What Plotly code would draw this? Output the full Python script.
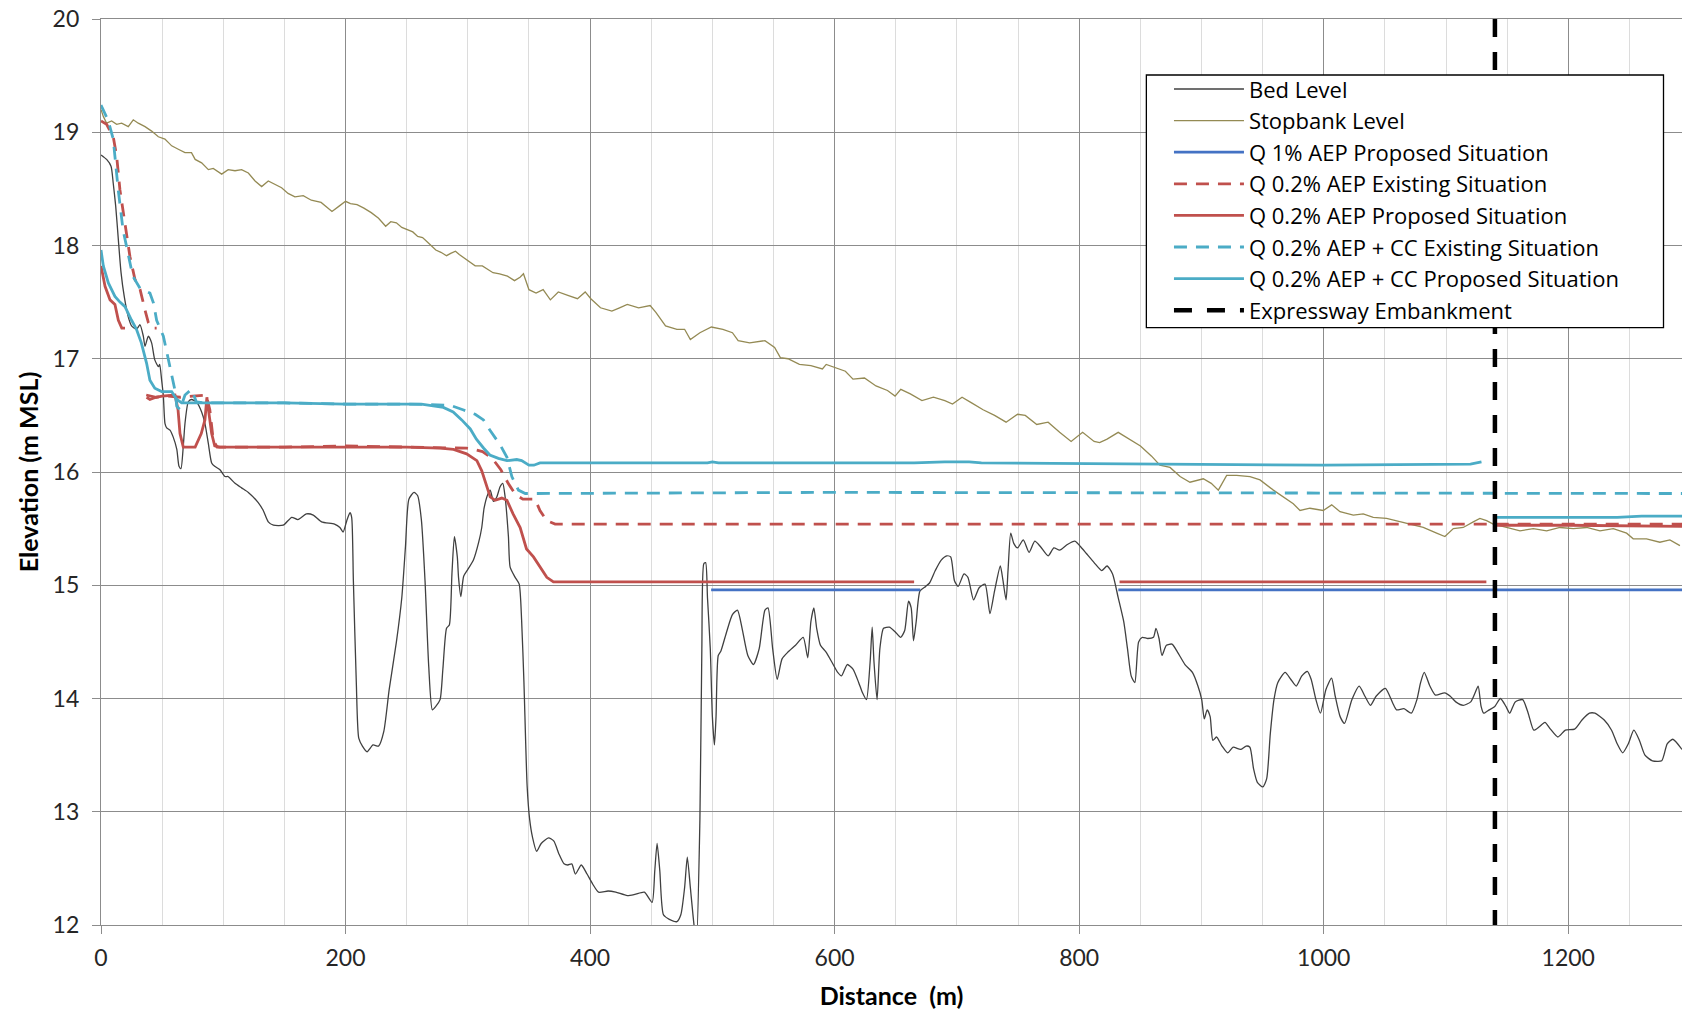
import plotly.graph_objects as go

# ---------------- data ----------------
bed_x = [0, 4.6, 8.2, 10, 12, 14.2, 16.4, 19, 22.3, 25, 29, 31.9, 34.6, 36, 38.7, 41.4, 44, 47, 48, 49.6,
         51, 52.3, 53.7, 56.4, 59, 62, 63.8, 65.4, 67.3, 68.7, 71.4, 74, 78, 82.3, 85, 87.8, 90.5, 93, 97.3,
         101.4, 104, 109.6, 115, 120.5, 128.6, 132.7, 136.8, 141, 149, 156, 161, 168, 173.6, 180.4, 191,
         195.4, 198, 201, 203.6, 205, 206.4, 208.8, 210.8, 213.8, 217.6, 222.5, 227, 231.3, 235.7, 241.6,
         246, 249, 251.8, 256, 259, 262, 265, 268, 271, 273.8, 277.3, 279.6, 282.6, 284.9, 287, 289, 291.4,
         292.4, 294.3, 296.6, 300, 304.5, 308.9, 311.4, 313.3, 316.2, 318.3, 321, 323.7, 326.4, 328.6, 330.5,
         333.2, 334.6, 338.7, 342, 344, 345.9, 348.5, 350.6, 352.8, 356.3, 360, 366, 370.4, 374.4, 378.7,
         381.8, 385, 388, 392.8, 397.5, 402.2, 406.9, 414.7, 421, 430.4, 436.6, 444.4, 450.7, 452.9, 454.8,
         457, 460, 464.8, 471, 474.2, 477.3, 479.5, 482, 485, 487, 489.8, 491.4, 493, 494.5, 496, 498.3, 500,
         501.7, 503, 504.8, 507, 511.7, 516.4, 520.5, 524.3, 529, 533.6, 538.3, 543, 545.5, 549.3, 553, 557,
         561.8, 568, 574.3, 578, 580.6, 583, 585.3, 588.4, 593, 597.8, 602.5, 605.6, 610.3, 615, 619.7,
         622.8, 626, 629, 630.7, 632.2, 634.7, 637, 640, 644.7, 649.4, 654, 657.3, 660.4, 662.6, 664.5,
         666.7, 669.8, 674.5, 677.6, 682.3, 687, 691.7, 694.9, 698, 701, 705.8, 709, 713.6, 718.3, 723, 727,
         730.8, 735.5, 737.7, 740.2, 741.8, 744, 746.5, 749.6, 754.3, 759, 763.7, 768.4, 774.6, 779.3, 784,
         790.3, 796.5, 801.2, 805.9, 812.2, 818.4, 822.8, 827.3, 831.9, 836.4, 839.5, 842.5, 845.5, 848.6,
         851.6, 856.1, 860.7, 862.8, 865.3, 867.7, 871.3, 875.9, 880.4, 886.5, 892.6, 897.1, 900.2, 902.3,
         904.7, 907.1, 909.3, 912.3, 916.8, 921.4, 925.9, 932, 936.5, 939.6, 942.6, 945.7, 950.2, 953.3,
         956.3, 959.3, 962.4, 968.4, 973, 977.5, 982.1, 986.6, 989.7, 993.6, 997.3, 1001.8, 1006.4, 1009.4,
         1013.4, 1017, 1023, 1029, 1033.7, 1038.2, 1042.8, 1050.4, 1056.4, 1059.5, 1065.6, 1071.6, 1076.2,
         1079.2, 1082.2, 1086.8, 1091.4, 1098.9, 1103.5, 1108, 1114.1, 1120.2, 1123.8, 1126.3, 1128.7,
         1130.8, 1135.4, 1139.9, 1144.5, 1149, 1152.1, 1156.6, 1162.7, 1167.2, 1171.8, 1176.3, 1180.9,
         1185.4, 1191.5, 1197.6, 1205.2, 1211.2, 1217.3, 1221.8, 1229.4, 1235.4, 1240, 1244.5, 1249.1,
         1253.6, 1258.2, 1262.7, 1268.8, 1276.4, 1280.9, 1285.5, 1293]
bed_y = [18.80, 18.76, 18.70, 18.55, 18.35, 18.05, 17.76, 17.55, 17.37, 17.29, 17.26, 17.30, 17.20, 17.11,
         17.20, 17.14, 16.99, 16.93, 16.95, 16.81, 16.67, 16.43, 16.39, 16.37, 16.31, 16.20, 16.05, 16.03,
         16.23, 16.43, 16.62, 16.64, 16.62, 16.53, 16.43, 16.25, 16.08, 16.05, 16.02, 15.96, 15.96, 15.90,
         15.86, 15.82, 15.73, 15.66, 15.56, 15.53, 15.53, 15.60, 15.58, 15.63, 15.62, 15.56, 15.54, 15.51,
         15.47, 15.57, 15.64, 15.60, 15.04, 14.14, 13.65, 13.58, 13.53, 13.59, 13.58, 13.71, 14.08, 14.50,
         14.89, 15.34, 15.76, 15.82, 15.79, 15.58, 15.04, 14.29, 13.90, 13.93, 13.99, 14.26, 14.62, 14.65,
         15.10, 15.43, 15.25, 15.07, 14.90, 15.08, 15.14, 15.22, 15.38, 15.51, 15.68, 15.80, 15.84, 15.74,
         15.78, 15.87, 15.90, 15.78, 15.43, 15.16, 15.07, 15.01, 14.69, 14.14, 13.23, 12.93, 12.78, 12.65,
         12.72, 12.77, 12.74, 12.63, 12.54, 12.53, 12.54, 12.45, 12.53, 12.45, 12.36, 12.29, 12.30, 12.29,
         12.26, 12.27, 12.29, 12.20, 12.48, 12.72, 12.48, 12.09, 12.05, 12.03, 12.09, 12.33, 12.60, 12.33,
         12.00, 11.85, 12.93, 14.44, 15.19, 15.20, 14.89, 14.44, 13.84, 13.59, 13.84, 14.38, 14.42, 14.59,
         14.74, 14.78, 14.62, 14.38, 14.30, 14.44, 14.78, 14.80, 14.44, 14.17, 14.35, 14.41, 14.47, 14.54,
         14.36, 14.68, 14.80, 14.62, 14.47, 14.41, 14.32, 14.23, 14.20, 14.30, 14.26, 14.14, 14.05, 13.99,
         14.32, 14.63, 14.32, 13.99, 14.44, 14.62, 14.63, 14.59, 14.54, 14.60, 14.86, 14.80, 14.51, 14.68,
         14.95, 14.99, 15.02, 15.13, 15.22, 15.26, 15.25, 15.04, 14.99, 15.10, 15.07, 14.87, 14.98, 15.01,
         14.75, 14.95, 15.17, 15.04, 14.87, 15.13, 15.46, 15.37, 15.33, 15.40, 15.29, 15.39, 15.34, 15.26,
         15.33, 15.31, 15.36, 15.39, 15.34, 15.28, 15.20, 15.13, 15.17, 15.10, 14.89, 14.68, 14.44, 14.20,
         14.14, 14.50, 14.54, 14.53, 14.54, 14.62, 14.53, 14.38, 14.47, 14.48, 14.41, 14.30, 14.23, 14.11,
         13.99, 13.82, 13.90, 13.84, 13.63, 13.66, 13.58, 13.52, 13.57, 13.55, 13.58, 13.57, 13.38, 13.26,
         13.22, 13.29, 13.69, 13.99, 14.14, 14.23, 14.17, 14.11, 14.20, 14.24, 14.17, 13.99, 13.87, 14.08,
         14.18, 14.02, 13.84, 13.78, 13.99, 14.11, 14.02, 13.94, 14.02, 14.09, 13.96, 13.90, 13.91, 13.87,
         13.99, 14.14, 14.23, 14.11, 14.03, 14.05, 14.02, 13.97, 13.94, 13.97, 14.05, 14.11, 13.93, 13.87,
         13.90, 13.93, 14.00, 13.93, 13.87, 13.97, 13.99, 13.87, 13.72, 13.75, 13.79, 13.73, 13.66, 13.72,
         13.73, 13.81, 13.87, 13.87, 13.81, 13.72, 13.60, 13.52, 13.60, 13.72, 13.63, 13.50, 13.45, 13.45,
         13.60, 13.64, 13.55]

stop_x = [0, 1.9, 4.6, 8.7, 12.8, 16.9, 22.3, 26.4, 30.5, 36, 41.4, 46.9, 52.3, 57.8, 63.2, 68.7, 74, 77,
          82.3, 87.8, 91.8, 98.7, 104, 109.6, 115, 120.5, 126, 131.4, 136.8, 142.3, 147.7, 153, 158.6, 165.4,
          172, 180, 188.9, 195, 200, 204, 209.4, 215, 221, 227, 232.8, 237, 241.6, 246, 250.4, 255, 259, 263,
          268, 273.8, 278, 282.6, 286, 289.9, 293, 297.2, 301, 306, 311.9, 316, 320.6, 326, 332.4, 338.2,
          342.7, 345.5, 350, 355.8, 361.6, 367.5, 374, 381.8, 389.7, 396, 400.6, 408.5, 417.8, 424.1, 430.4,
          439.7, 449.1, 453.8, 461.7, 471, 477.3, 482, 489.8, 499.2, 508.6, 516.4, 521.1, 530.5, 543, 550.9,
          555.6, 561.8, 571.2, 580.6, 590, 593.1, 602.5, 608.8, 615, 624.4, 633.8, 643.2, 649.4, 654.1,
          661.9, 671.4, 680.8, 690.1, 696.4, 704.2, 712, 721.4, 730.8, 740.2, 749.6, 755.9, 765.3, 774.6,
          784, 793.4, 802.8, 812.2, 816.7, 822.8, 831.9, 841, 850.1, 859.2, 866, 874.3, 882.5, 890.6, 901.5,
          908, 913.8, 920.6, 928.8, 939.7, 947.9, 958.8, 967, 975.1, 980.6, 988.7, 999.6, 1006.5, 1013.3,
          1024.2, 1032.3, 1040.5, 1051.4, 1062.3, 1073.2, 1081.4, 1092.3, 1099.1, 1106, 1114.1, 1122.3,
          1127.7, 1133.2, 1138.6, 1149.5, 1160.5, 1171.4, 1182.3, 1193.2, 1204.1, 1215, 1225.9, 1236.8,
          1247.7, 1253.1, 1264, 1274.9, 1283.1, 1291.3]
stop_y = [19.20, 19.14, 19.08, 19.10, 19.07, 19.08, 19.05, 19.11, 19.08, 19.05, 19.01, 18.96, 18.94, 18.88,
          18.85, 18.82, 18.82, 18.76, 18.73, 18.67, 18.68, 18.63, 18.67, 18.66, 18.67, 18.64, 18.57, 18.52,
          18.57, 18.54, 18.51, 18.46, 18.43, 18.44, 18.40, 18.38, 18.30, 18.35, 18.39, 18.37, 18.36, 18.33,
          18.29, 18.24, 18.17, 18.21, 18.20, 18.16, 18.14, 18.12, 18.08, 18.07, 18.02, 17.96, 17.94, 17.91,
          17.93, 17.95, 17.92, 17.89, 17.86, 17.82, 17.82, 17.79, 17.76, 17.75, 17.73, 17.69, 17.72, 17.75,
          17.61, 17.58, 17.61, 17.52, 17.59, 17.56, 17.53, 17.59, 17.53, 17.45, 17.42, 17.45, 17.48, 17.45,
          17.47, 17.41, 17.29, 17.26, 17.26, 17.17, 17.23, 17.28, 17.26, 17.23, 17.16, 17.14, 17.16, 17.10,
          17.01, 17.00, 16.95, 16.94, 16.91, 16.95, 16.91, 16.89, 16.82, 16.83, 16.76, 16.72, 16.67, 16.73,
          16.69, 16.63, 16.66, 16.63, 16.60, 16.66, 16.61, 16.55, 16.50, 16.44, 16.51, 16.50, 16.42, 16.44,
          16.35, 16.27, 16.35, 16.27, 16.26, 16.29, 16.35, 16.29, 16.23, 16.14, 16.06, 16.04, 15.96, 15.91,
          15.94, 15.90, 15.84, 15.97, 15.97, 15.96, 15.93, 15.84, 15.78, 15.72, 15.66, 15.68, 15.66, 15.71,
          15.65, 15.62, 15.63, 15.60, 15.59, 15.56, 15.53, 15.51, 15.46, 15.43, 15.50, 15.51, 15.56, 15.59,
          15.57, 15.54, 15.51, 15.48, 15.50, 15.48, 15.51, 15.50, 15.51, 15.48, 15.50, 15.46, 15.41, 15.41,
          15.38, 15.40, 15.35]

q1_prop_x = [499, 670, None, 832, 1293]
q1_prop_y = [14.96, 14.96, None, 14.96, 14.96]

q02_exist_x = [0, 4.6, 10, 12.8, 15.5, 19.6, 23.7, 27.8, 32, 36, 38.7, 41.4, 45.5, None,
               37, 45, 55, 65, 75, 86, 89, 90.5, 91.8, 95, 150, 200, 250, 299, 304.6, 312, 320, 327, 333,
               339, 345, 355, 359, 364.6, 371.4, 700, 1293]
q02_exist_y = [19.10, 19.07, 18.96, 18.79, 18.49, 18.20, 17.90, 17.70, 17.61, 17.43, 17.32, 17.27, 17.27, None,
               16.68, 16.66, 16.67, 16.66, 16.67, 16.68, 16.55, 16.40, 16.28, 16.22, 16.22, 16.23, 16.22, 16.21,
               16.20, 16.18, 16.12, 16.02, 15.90, 15.80, 15.76, 15.76, 15.66, 15.57, 15.54, 15.54, 15.54]

q02_prop_x = [0, 3.3, 7.4, 11.4, 14.2, 17, 19.6, None,
              37.3, 40, 45, 50, 60.5, 63, 64.6, 67.3, 77, 82, 85, 86.6, 88.5, 90.5, 93, 97, 150, 200, 250,
              277.4, 288.3, 299, 307.4, 311.4, 315.5, 318.3, 322.3, 327.8, 332, 337, 342.8, 348, 353.7, 359,
              364.6, 370, 665, None, 833, 1133, None, 1141.5, 1200, 1293]
q02_prop_y = [17.82, 17.64, 17.52, 17.48, 17.34, 17.27, 17.27, None,
              16.66, 16.64, 16.66, 16.67, 16.68, 16.55, 16.34, 16.22, 16.22, 16.34, 16.46, 16.66, 16.50, 16.34,
              16.23, 16.22, 16.22, 16.22, 16.22, 16.21, 16.20, 16.16, 16.10, 16.01, 15.87, 15.78, 15.75, 15.77,
              15.75, 15.63, 15.51, 15.32, 15.25, 15.16, 15.07, 15.03, 15.03, None, 15.03, 15.03, None,
              15.53, 15.53, 15.52]

qcc_exist_x = [0, 6, 10, 14, 18, 22, 26, 32, 40, 43, 45.5, 51, 54, 58, 60.5, 62, 64.6, 68.7, 74, 78, 85,
               150, 200, 250, 285.5, 296, 306, 312.8, 318, 326.4, 332, 336, 341.4, 347, 356, 600, 1293]
qcc_exist_y = [19.24, 19.10, 18.94, 18.50, 18.14, 17.93, 17.73, 17.62, 17.58, 17.49, 17.34, 17.20, 17.05,
               16.87, 16.72, 16.58, 16.55, 16.68, 16.73, 16.62, 16.61, 16.61, 16.60, 16.60, 16.59, 16.55, 16.51,
               16.46, 16.37, 16.24, 16.13, 15.96, 15.84, 15.81, 15.81, 15.82, 15.81]

qcc_prop_x = [0, 1.9, 6, 11.4, 15.5, 19.6, 25, 29, 33, 37.3, 40, 44, 49.6, 57.8, 62, 66, 150, 200, 262,
              280, 288, 295, 302, 307, 313, 318, 325, 332, 340, 344, 350, 354, 359, 496, 500, 505, 665, 690,
              710, 720, 1000, 1120, 1129, None, 1141.5, 1240, 1260, 1293]
qcc_prop_y = [17.96, 17.82, 17.67, 17.55, 17.50, 17.46, 17.34, 17.26, 17.14, 16.96, 16.81, 16.74, 16.71,
              16.71, 16.64, 16.61, 16.61, 16.60, 16.60, 16.57, 16.53, 16.46, 16.38, 16.29, 16.21, 16.15, 16.12,
              16.10, 16.11, 16.10, 16.06, 16.06, 16.08, 16.08, 16.09, 16.08, 16.08, 16.09, 16.09, 16.08, 16.06,
              16.07, 16.09, None, 15.60, 15.60, 15.61, 15.61]

emb_x = [1140, 1140]
emb_y = [20, 12]

x_ticks = [0, 200, 400, 600, 800, 1000, 1200]
y_ticks = [12, 13, 14, 15, 16, 17, 18, 19, 20]

# ---------------- figure ----------------
FONT = "Lato"
LEG_FONT = "Open Sans"
series = [
    ("Bed Level", bed_x, bed_y, dict(color="#404040", width=1.3), "spline"),
    ("Stopbank Level", stop_x, stop_y, dict(color="#948A54", width=1.3), "linear"),
    ("Q 1% AEP Proposed Situation", q1_prop_x, q1_prop_y, dict(color="#4472C4", width=2.8), "linear"),
    ("Q 0.2% AEP Existing Situation", q02_exist_x, q02_exist_y,
     dict(color="#C0504D", width=2.8, dash="13px,9px"), "linear"),
    ("Q 0.2% AEP Proposed Situation", q02_prop_x, q02_prop_y, dict(color="#C0504D", width=2.8), "linear"),
    ("Q 0.2% AEP + CC Existing Situation", qcc_exist_x, qcc_exist_y,
     dict(color="#4BACC6", width=2.8, dash="13px,9px"), "linear"),
    ("Q 0.2% AEP + CC Proposed Situation", qcc_prop_x, qcc_prop_y, dict(color="#4BACC6", width=2.8), "linear"),
    ("Expressway Embankment", emb_x, emb_y, dict(color="#000000", width=4.5, dash="18px,15px"), "linear"),
]

fig = go.Figure()
for name, xs, ys, line, shape in series:
    ln = dict(line)
    ln["shape"] = shape
    if shape == "spline":
        ln["smoothing"] = 0.6
    fig.add_trace(go.Scatter(x=xs, y=ys, mode="lines", name=name, line=ln,
                             connectgaps=False, hoverinfo="skip"))

GRID = "#8c8c8c"
# legend frame drawn as a shape so the entries can sit inset from its left edge
fig.add_shape(type="rect", xref="paper", yref="paper", x0=0.6612, x1=0.9883, y0=0.6593, y1=0.9382,
              line=dict(color="#000000", width=1.3), fillcolor="white", layer="above")

fig.update_layout(
    width=1682, height=1013,
    margin=dict(l=101, r=0, t=19, b=88),
    plot_bgcolor="white", paper_bgcolor="white",
    font=dict(family=FONT, size=23, color="#262626"),
    legend=dict(
        x=0.6755, y=0.9457, xanchor="left", yanchor="top",
        bgcolor="rgba(0,0,0,0)", borderwidth=0,
        font=dict(family=LEG_FONT, size=22, color="#000000"),
        itemwidth=70, tracegroupgap=0, traceorder="normal",
    ),
    xaxis=dict(
        range=[0, 1293], tickmode="array", tickvals=x_ticks,
        showgrid=True, gridcolor=GRID, gridwidth=1.3,
        minor=dict(dtick=50, tick0=0, showgrid=True, gridcolor="#dcdcdc", gridwidth=1, ticks=""),
        ticks="outside", ticklen=8, tickcolor=GRID, tickwidth=1.3,
        zeroline=False, showline=True, linecolor=GRID, linewidth=1.3, mirror=True,
        title=dict(text="<b>Distance  (m)</b>", font=dict(family=FONT, size=25, color="#000000"), standoff=17),
        ticklabelstandoff=4,
    ),
    yaxis=dict(
        range=[12, 20], tickmode="array", tickvals=y_ticks,
        showgrid=True, gridcolor=GRID, gridwidth=1.3,
        ticks="outside", ticklen=8, tickcolor=GRID, tickwidth=1.3,
        zeroline=False, showline=True, linecolor=GRID, linewidth=1.3,
        title=dict(text="<b>Elevation (m MSL)</b>", font=dict(family=FONT, size=25, color="#000000"), standoff=6),
        ticklabelstandoff=8,
    ),
)

fig.write_html("out.html", config={"displayModeBar": False},
               post_script="document.body.style.margin='0';document.body.style.overflow='hidden';")
